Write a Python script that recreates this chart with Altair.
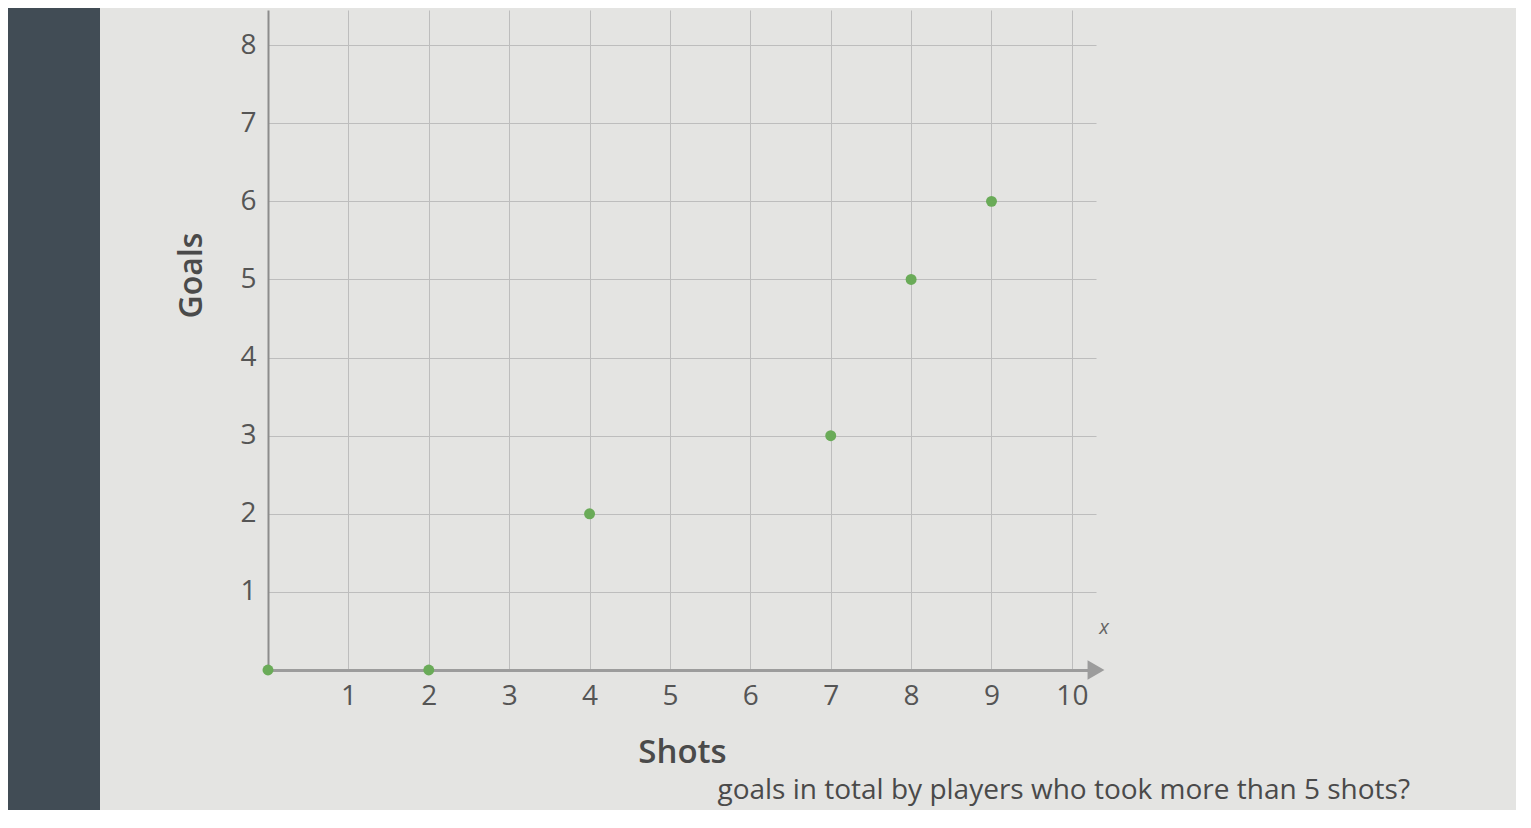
import altair as alt
import pandas as pd

# ---- data ----
shots = [0, 2, 4, 7, 8, 9]
goals = [0, 0, 2, 3, 5, 6]
x_ticks = [1, 2, 3, 4, 5, 6, 7, 8, 9, 10]
y_ticks = [1, 2, 3, 4, 5, 6, 7, 8]
x_max = [10.3]
y_max = 8.45
axis_var = ["x"]
question = ["goals in total by players who took more than 5 shots?"]

FONT = "Open Sans"

df = pd.DataFrame({"Shots": shots, "Goals": goals})
arrow_df = pd.DataFrame({"Shots": x_max, "Goals": [0], "lab": axis_var})

xscale = alt.Scale(domain=[0, x_max[0]], nice=False, zero=True)
yscale = alt.Scale(domain=[0, y_max], nice=False, zero=True)

xaxis = alt.Axis(values=x_ticks, format="d", title="Shots", grid=True, ticks=False,
                 domainColor="#9c9c9c", domainWidth=3, gridColor="#bdbdbd",
                 gridWidth=1, labelFontSize=28, labelColor="#555555",
                 labelPadding=12, labelFont=FONT, titleFont=FONT,
                 titleFontSize=33, titleFontWeight=600, titleColor="#4a4a4a",
                 titlePadding=26)
yaxis = alt.Axis(values=y_ticks, format="d", title="Goals", grid=True, ticks=False,
                 domainColor="#8c8c8c", domainWidth=2, gridColor="#bdbdbd",
                 gridWidth=1, labelFontSize=28, labelColor="#555555",
                 labelPadding=12, labelFont=FONT, titleFont=FONT,
                 titleFontSize=32, titleFontWeight=600, titleColor="#4a4a4a",
                 titleX=-60, titleY=265)

band = alt.Chart(pd.DataFrame({"k": [0]})).mark_rect(color="#414c55").encode(
    x=alt.value(-268), x2=alt.value(-168), y=alt.value(-20), y2=alt.value(900)
)

points = alt.Chart(df).mark_circle(size=120, color="#6aab58", opacity=1).encode(
    x=alt.X("Shots:Q", scale=xscale, axis=xaxis),
    y=alt.Y("Goals:Q", scale=yscale, axis=yaxis),
)

arrow = alt.Chart(arrow_df).mark_point(
    shape="triangle-right", filled=True, size=380, color="#9c9c9c", opacity=1
).encode(x=alt.X("Shots:Q", scale=xscale), y=alt.Y("Goals:Q", scale=yscale))

xlab = alt.Chart(arrow_df).mark_text(
    font=FONT, fontSize=20, fontStyle="italic", color="#666666", dx=8, dy=-42
).encode(x=alt.X("Shots:Q", scale=xscale), y=alt.Y("Goals:Q", scale=yscale),
         text="lab:N")

qtext = alt.Chart(pd.DataFrame({"q": question})).mark_text(
    font=FONT, fontSize=28, color="#4a4a4a", align="right", baseline="alphabetic"
).encode(x=alt.value(1142), y=alt.value(789), text="q:N")

chart = alt.layer(band, points, arrow, xlab, qtext).properties(
    width=828, height=660,
    padding={"left": 260, "top": 2, "right": 420, "bottom": 140},
    autosize=alt.AutoSizeParams(type="none"),
    background="#e4e4e2",
).configure_view(stroke=None)

chart.save("out.html", embed_options={"renderer": "svg", "actions": False})
